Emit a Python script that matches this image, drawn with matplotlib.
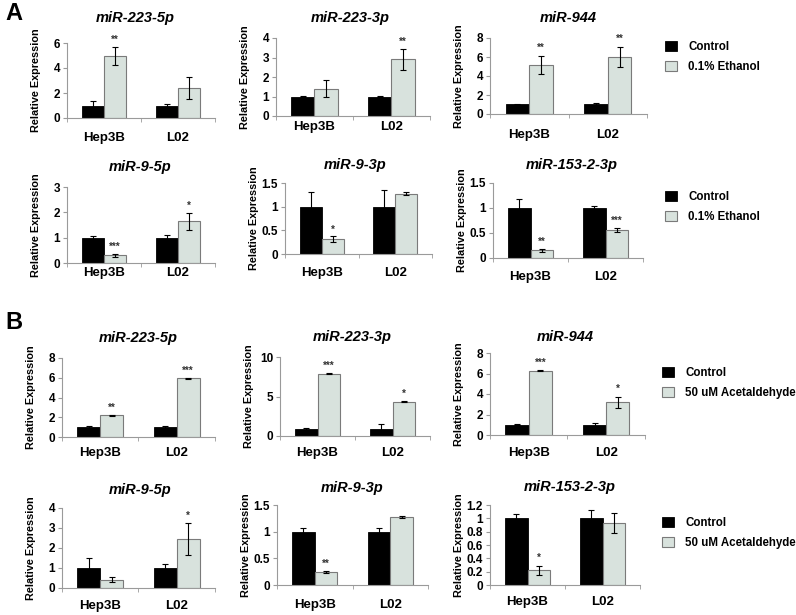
import numpy as np
import matplotlib.pyplot as plt
from matplotlib.ticker import FixedLocator, FuncFormatter

plt.rcParams['font.family'] = ['Liberation Sans', 'DejaVu Sans']
plt.rcParams['font.weight'] = 'bold'

# data
cells = ["Hep3B", "L02"]
mirs = ["miR-223-5p", "miR-223-3p", "miR-944", "miR-9-5p", "miR-9-3p", "miR-153-2-3p"]

eth_ctrl = [[1.0, 1.0], [1.0, 1.0], [1.0, 1.0], [1.0, 1.0], [1.0, 1.0], [1.0, 1.0]]
eth_ctrl_err = [[0.35, 0.1], [0.05, 0.03], [0.05, 0.2], [0.07, 0.1], [0.3, 0.35], [0.18, 0.03]]
eth_trt = [[4.95, 2.4], [1.4, 2.9], [5.2, 6.0], [0.3, 1.65], [0.31, 1.27], [0.15, 0.56]]
eth_trt_err = [[0.7, 0.85], [0.45, 0.55], [0.95, 1.1], [0.05, 0.33], [0.06, 0.03], [0.03, 0.04]]
eth_stars = [["**", ""], ["", "**"], ["**", "**"], ["***", "*"], ["*", ""], ["**", "***"]]

acet_ctrl = [[1.0, 1.0], [0.9, 0.9], [1.0, 1.0], [1.0, 1.0], [1.0, 1.0], [1.0, 1.0]]
acet_ctrl_err = [[0.07, 0.07], [0.1, 0.6], [0.05, 0.2], [0.48, 0.2], [0.07, 0.07], [0.06, 0.12]]
acet_trt = [[2.2, 5.95], [7.9, 4.35], [6.25, 3.2], [0.42, 2.45], [0.24, 1.28], [0.22, 0.93]]
acet_trt_err = [[0.05, 0.05], [0.1, 0.07], [0.05, 0.55], [0.12, 0.8], [0.02, 0.015], [0.07, 0.15]]
acet_stars = [["**", "***"], ["***", "*"], ["***", "*"], ["", "*"], ["**", ""], ["*", ""]]

# axis scales
eth_ymax = [6, 4, 8, 3, 1.5, 1.5]
eth_ystep = [2, 1, 2, 1, 0.5, 0.5]
acet_ymax = [8, 10, 8, 4, 1.5, 1.2]
acet_ystep = [2, 5, 2, 1, 0.5, 0.2]

# layout in pixels: left, right, top, zero line, category label gap
W, H = 796, 615
eth_boxes = [(67, 215, 43, 118, 20), (276, 430, 38, 116, 11), (490, 647, 38, 114, 21),
             (67, 215, 187, 263, 10), (285, 432, 183, 254, 19), (493, 643, 183, 258, 19)]
acet_boxes = [(62, 215, 358, 437, 16), (280, 430, 357, 436, 17), (490, 645, 353, 435, 18),
              (62, 215, 508, 588, 18), (277, 428, 505, 585, 20), (490, 640, 505, 585, 17)]
eth_titles = [(135, 18), (350, 18), (568, 18), (140, 167), (355, 165), (572, 165)]
acet_titles = [(138, 338), (352, 337), (565, 337), (140, 490), (352, 488), (570, 487)]

GREY = "#d8e2dd"
SPINE = "#9a9a9a"

fig = plt.figure(figsize=(7.96, 6.15), dpi=100)


def panel(box, title_xy, name, ctrl, ctrl_err, trt, trt_err, stars, ymax, ystep, lab):
    x0, x1, ytop, ybot, gap = box
    ax = fig.add_axes([x0 / W, 1 - ybot / H, (x1 - x0) / W, (ybot - ytop) / H])
    x = np.arange(1, len(cells) + 1)
    ekw = dict(ecolor="black", elinewidth=0.8, capsize=2.5, capthick=0.8)
    b1 = ax.bar(x - 0.15, ctrl, 0.3, color="black", edgecolor="black", linewidth=0.6,
                yerr=ctrl_err, error_kw=ekw, label="Control")
    b2 = ax.bar(x + 0.15, trt, 0.3, color=GREY, edgecolor="#7a7a7a", linewidth=0.8,
                yerr=trt_err, error_kw=ekw, label=lab)
    for xi, v, e, s in zip(x + 0.15, trt, trt_err, stars):
        if s:
            ax.text(xi, v + e + ymax * 0.03, s, ha="center", va="bottom", fontsize=7,
                    color="#333333")
    ax.set_xlim(0.5, 2.5)
    ax.set_ylim(0, ymax)
    ax.set_xticks(x)
    ax.set_xticklabels(cells, fontsize=9.5)
    ax.xaxis.set_minor_locator(FixedLocator([0.5, 1.5, 2.5]))
    ax.tick_params(axis="x", which="major", length=0, pad=(gap - 6) * 0.72)
    ax.tick_params(axis="x", which="minor", length=3, color=SPINE, direction="out")
    ax.set_yticks(np.arange(0, ymax + ystep / 2, ystep))
    ax.yaxis.set_major_formatter(FuncFormatter(lambda v, p: f"{round(v, 2):g}"))
    ax.tick_params(axis="y", length=3, color=SPINE, labelsize=8.5, pad=2)
    for s in ["top", "right"]:
        ax.spines[s].set_visible(False)
    for s in ["left", "bottom"]:
        ax.spines[s].set_color(SPINE)
        ax.spines[s].set_linewidth(0.8)
    fig.text(title_xy[0] / W, 1 - title_xy[1] / H, name, ha="center", va="center",
             fontsize=10.5, style="italic", fontweight="bold")
    fig.text((x0 - 31) / W, 1 - (ytop + ybot) / 2 / H, "Relative Expression",
             rotation=90, ha="center", va="center", fontsize=7.8)
    return b1, b2


def legend(handles, lab, x, y):
    fig.legend(handles, ["Control", lab], loc="upper left",
               bbox_to_anchor=(x / W, 1 - y / H), frameon=False, fontsize=8.3,
               handlelength=1.0, handleheight=1.0, handletextpad=1.0,
               labelspacing=0.7, borderpad=0, borderaxespad=0)


eth_lab = "0.1% Ethanol"
acet_lab = "50 uM Acetaldehyde"
for i in range(6):
    h = panel(eth_boxes[i], eth_titles[i], mirs[i], eth_ctrl[i], eth_ctrl_err[i],
              eth_trt[i], eth_trt_err[i], eth_stars[i], eth_ymax[i], eth_ystep[i], eth_lab)
    if i == 2:
        legend(h, eth_lab, 665, 41)
    if i == 5:
        legend(h, eth_lab, 665, 191)
for i in range(6):
    h = panel(acet_boxes[i], acet_titles[i], mirs[i], acet_ctrl[i], acet_ctrl_err[i],
              acet_trt[i], acet_trt_err[i], acet_stars[i], acet_ymax[i], acet_ystep[i], acet_lab)
    if i == 2:
        legend(h, acet_lab, 662, 367)
    if i == 5:
        legend(h, acet_lab, 662, 517)

fig.text(14 / W, 1 - 14 / H, "A", ha="center", va="center", fontsize=17, fontweight="bold")
fig.text(14 / W, 1 - 323 / H, "B", ha="center", va="center", fontsize=17, fontweight="bold")

fig.savefig("out.png", dpi=100)
